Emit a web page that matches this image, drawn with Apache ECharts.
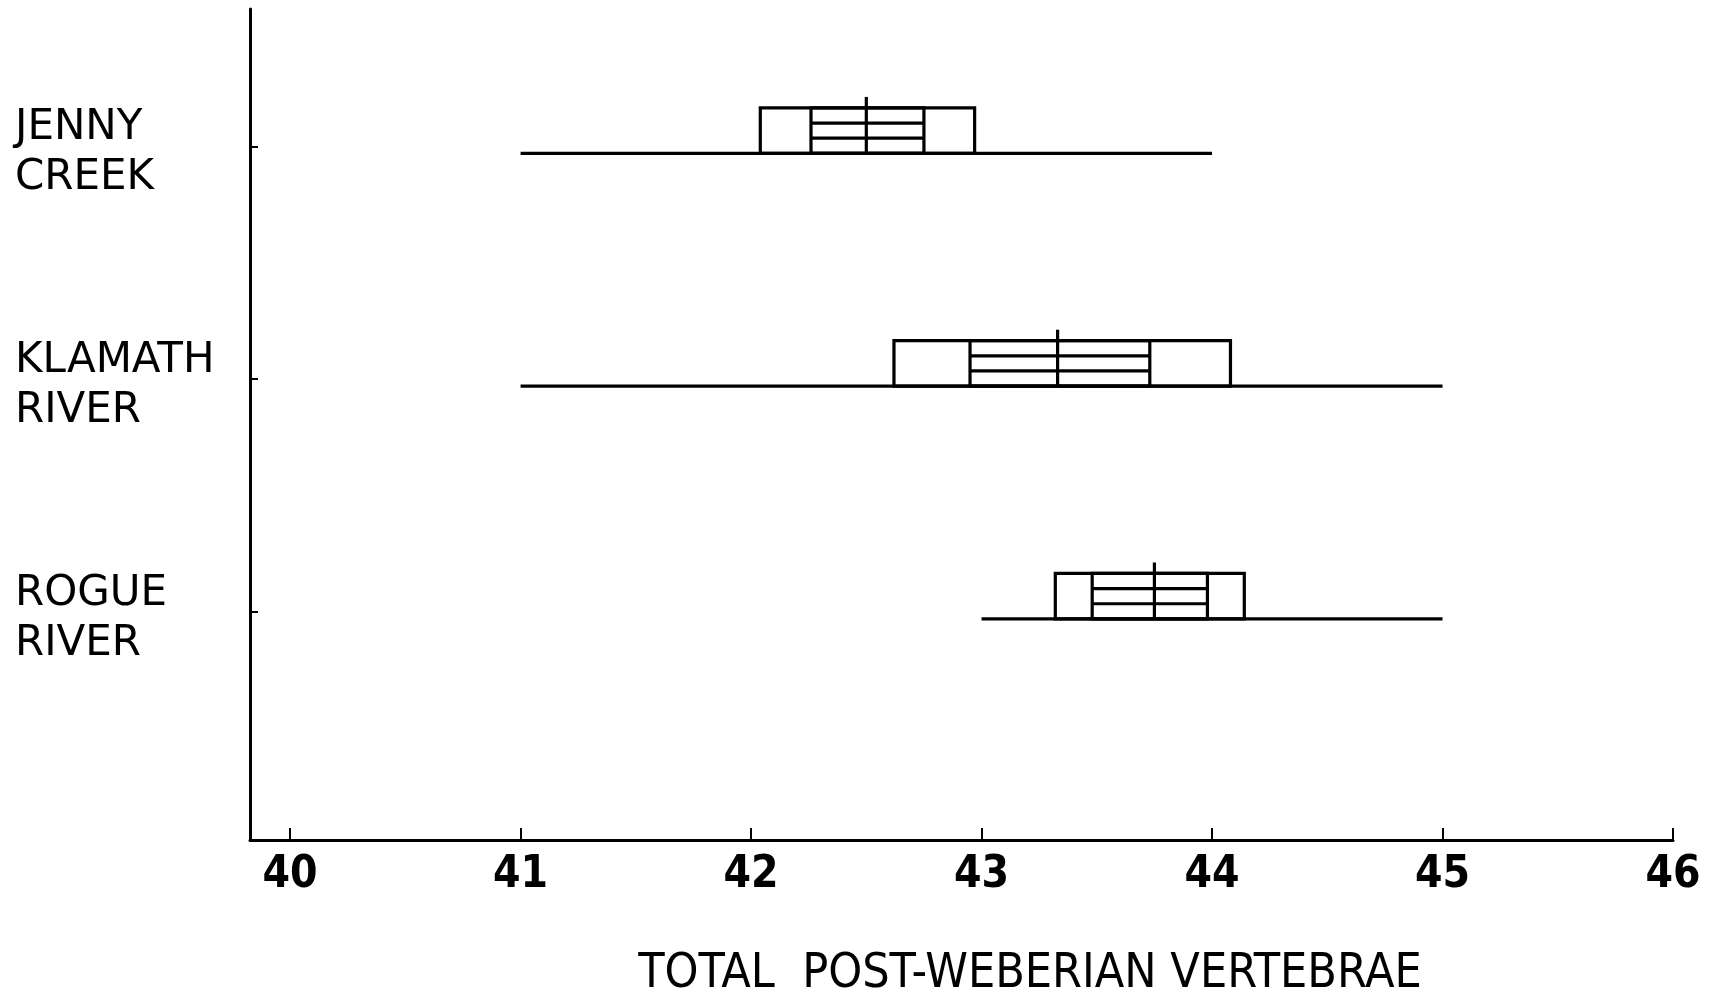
<!DOCTYPE html>
<html>
<head>
<meta charset="utf-8">
<script src="https://cdn.jsdelivr.net/npm/echarts@6/dist/echarts.min.js"></script>
<style>
  html, body { margin: 0; padding: 0; background: #fff; }
  #chart { width: 1710px; height: 996px; }
</style>
</head>
<body>
<div id="chart"></div>
<script>
// one row per drainage, bottom row = 1
const categories = ["JENNY\nCREEK", "KLAMATH\nRIVER", "ROGUE\nRIVER"];
const rows = [3, 2, 1];
const rangeMin = [41, 41, 43];
const rangeMax = [44, 45, 45];
const sdLow = [42.04, 42.62, 43.32];   // outer box
const sdHigh = [42.97, 44.08, 44.14];
const seLow = [42.26, 42.95, 43.48];   // inner hatched box
const seHigh = [42.75, 43.73, 43.98];
const means = [42.5, 43.33, 43.75];
const xTicks = [40, 41, 42, 43, 44, 45, 46];

const BOX_H = 0.195;   // in row units
const STEM = 11;       // px the mean line sticks out above the box

let data = rows.map((r, i) => [r, rangeMin[i], rangeMax[i], sdLow[i], sdHigh[i], seLow[i], seHigh[i], means[i]]);

let line = { stroke: "#000", lineWidth: 3.2, fill: null };

function renderItem(params, api) {
  let row = api.value(0);
  let c = (x) => api.coord([x, row]);
  let h = api.size([0, BOX_H])[1];
  let y0 = c(api.value(1))[1];
  let yTop = y0 - h;
  let x = (i) => c(api.value(i))[0];
  let kids = [];
  // range line
  kids.push({ type: "line", shape: { x1: x(1), y1: y0, x2: x(2), y2: y0 }, style: line });
  // outer box
  kids.push({ type: "rect", shape: { x: x(3), y: yTop, width: x(4) - x(3), height: h }, style: line });
  // inner box with two horizontal bars
  kids.push({ type: "rect", shape: { x: x(5), y: yTop, width: x(6) - x(5), height: h }, style: line });
  for (let k = 1; k <= 2; k++) {
    let yy = yTop + h * k / 3;
    kids.push({ type: "line", shape: { x1: x(5), y1: yy, x2: x(6), y2: yy }, style: line });
  }
  // mean
  kids.push({ type: "line", shape: { x1: x(7), y1: y0, x2: x(7), y2: yTop - STEM }, style: line });
  return { type: "group", children: kids };
}

let myChart = echarts.init(document.getElementById("chart"));
let option = {
  backgroundColor: "#fff",
  animation: false,
  title: {
    text: "TOTAL  POST-WEBERIAN VERTEBRAE",
    left: 1025,
    top: 946,
    textAlign: "center",
    textStyle: {
      color: "#000",
      fontFamily: "Liberation Sans Narrow, DejaVu Sans Condensed, sans-serif",
      fontWeight: "normal",
      fontSize: 48,
    },
  },
  grid: { left: 250, right: 37, top: 9, bottom: 156 },
  xAxis: {
    type: "value",
    min: 39.826,
    max: 46,
    axisLine: { show: true, lineStyle: { color: "#000", width: 3 } },
    axisTick: { show: true, inside: true, length: 12, lineStyle: { color: "#000", width: 2 }, customValues: xTicks },
    axisLabel: {
      customValues: xTicks,
      margin: 14,
      color: "#000",
      fontFamily: "Liberation Sans Narrow, DejaVu Sans Condensed, sans-serif",
      fontWeight: "bold",
      fontSize: 44,
    },
    splitLine: { show: false },
  },
  yAxis: {
    type: "value",
    min: 0.05,
    max: 3.62,
    axisLine: { show: true, lineStyle: { color: "#000", width: 3 } },
    axisTick: { show: true, inside: true, length: 8, lineStyle: { color: "#000", width: 2 }, customValues: rows.map((r) => r + 0.03) },
    axisLabel: {
      customValues: rows,
      formatter: (v) => categories[rows.indexOf(v)],
      align: "left",
      margin: 235,
      color: "#000",
      fontFamily: "DejaVu Sans, sans-serif",
      fontSize: 42,
      lineHeight: 50,
    },
    splitLine: { show: false },
  },
  series: [
    {
      type: "custom",
      renderItem: renderItem,
      encode: { x: [1, 2, 3, 4, 5, 6, 7], y: 0 },
      data: data,
    },
  ],
};
myChart.setOption(option);
</script>
</body>
</html>
